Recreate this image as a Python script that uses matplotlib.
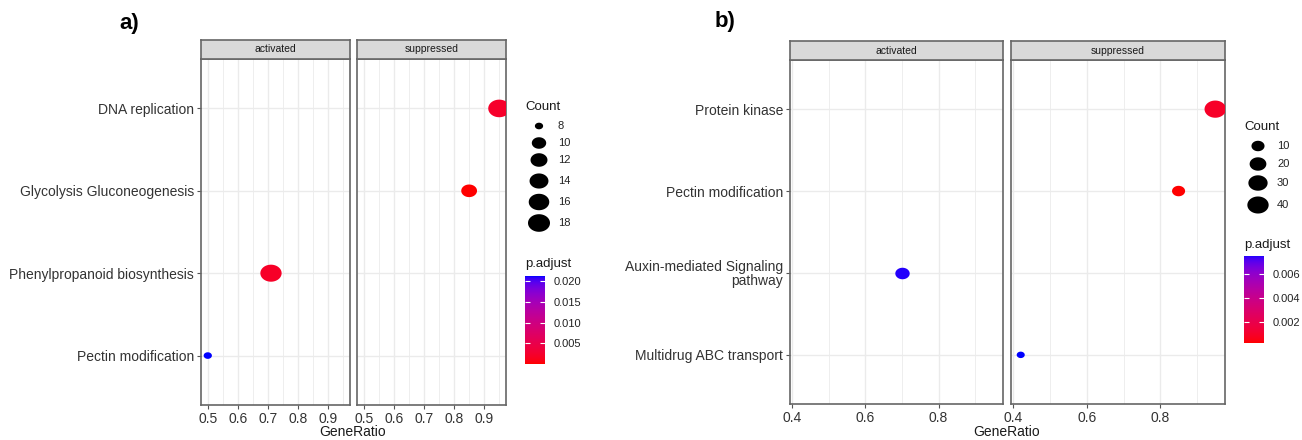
import numpy as np
import matplotlib
matplotlib.use('Agg')
import matplotlib.pyplot as plt
from matplotlib.path import Path
from matplotlib.colors import ListedColormap, Normalize

plt.rcParams['font.family'] = ['Liberation Sans', 'DejaVu Sans']

# a) enrichment by category
terms_a = ['DNA replication', 'Glycolysis Gluconeogenesis',
           'Phenylpropanoid biosynthesis', 'Pectin modification']
group_a = ['suppressed', 'suppressed', 'activated', 'activated']
ratio_a = [0.95, 0.85, 0.71, 0.50]
count_a = [18, 11, 17, 8]
padj_a = [0.0022, 0.00005, 0.0020, 0.0212]
size_breaks_a = [8, 10, 12, 14, 16, 18]
color_breaks_a = [0.005, 0.010, 0.015, 0.020]

# b) enrichment by category
terms_b = ['Protein kinase', 'Pectin modification',
           'Auxin-mediated Signaling\npathway', 'Multidrug ABC transport']
group_b = ['suppressed', 'suppressed', 'activated', 'suppressed']
ratio_b = [0.95, 0.85, 0.70, 0.42]
count_b = [41, 10, 13, 5]
padj_b = [0.0009, 0.0002, 0.0074, 0.0075]
size_breaks_b = [10, 20, 30, 40]
color_breaks_b = [0.002, 0.004, 0.006]

facets = ['activated', 'suppressed']

W, H = 1302, 440
fig = plt.figure(figsize=(W / 100, H / 100), dpi=100)


def box(x0, y0, x1, y1):
    return [x0 / W, 1 - y1 / H, (x1 - x0) / W, (y1 - y0) / H]


def put(x, y, s, **kw):
    fig.text(x / W, 1 - y / H, s, **kw)


# red -> blue gradient interpolated in CIE Lab
WHITE = np.array([0.95047, 1.0, 1.08883])
M = np.array([[0.4124, 0.3576, 0.1805],
              [0.2126, 0.7152, 0.0722],
              [0.0193, 0.1192, 0.9505]])


def rgb2lab(rgb):
    c = np.asarray(rgb, float)
    lin = np.where(c <= 0.04045, c / 12.92, ((c + 0.055) / 1.055) ** 2.4)
    t = M @ lin / WHITE
    f = np.where(t > 0.008856, np.cbrt(t), 7.787 * t + 16 / 116)
    return np.array([116 * f[1] - 16, 500 * (f[0] - f[1]), 200 * (f[1] - f[2])])


def lab2rgb(lab):
    L, a, b = lab
    fy = (L + 16) / 116
    f = np.array([fy + a / 500, fy, fy - b / 200])
    t = np.where(f ** 3 > 0.008856, f ** 3, (f - 16 / 116) / 7.787) * WHITE
    lin = np.linalg.solve(M, t)
    lin = np.clip(lin, 0, 1)
    c = np.where(lin <= 0.0031308, 12.92 * lin, 1.055 * lin ** (1 / 2.4) - 0.055)
    return np.clip(c, 0, 1)


lo_lab, hi_lab = rgb2lab((1, 0, 0)), rgb2lab((0, 0, 1))
cmap = ListedColormap([lab2rgb(lo_lab + (hi_lab - lo_lab) * t)
                       for t in np.linspace(0, 1, 256)])

# slightly wide dot, same as the rest of the drawing
theta = np.linspace(0, 2 * np.pi, 73)
dot = Path(np.column_stack([1.25 * np.cos(theta), np.sin(theta)]))


def dot_area(v, lo, hi, wmax):
    v = np.asarray(v, float)
    w = (3 + 5 * np.sqrt((v - lo) / (hi - lo))) / 8 * wmax
    return (w * 0.72) ** 2


def dotplot(terms, groups, ratios, counts, padj, panels, top, bottom,
            majors, minors, wmax, label_x):
    groups = np.array(groups)
    ratios = np.array(ratios)
    counts = np.array(counts)
    padj = np.array(padj)
    ypos = np.arange(len(terms), 0, -1)
    span = max(ratios) - min(ratios)
    xlim = (min(ratios) - 0.05 * span, max(ratios) + 0.05 * span)
    norm = Normalize(min(padj), max(padj))
    for i, (facet, (x0, x1)) in enumerate(zip(facets, panels)):
        ax = fig.add_axes(box(x0, top, x1, bottom))
        ax.set_xlim(xlim)
        ax.set_ylim(0.4, len(terms) + 0.6)
        ax.set_xticks(majors)
        ax.set_xticks(minors, minor=True)
        ax.grid(which='major', color='#EBEBEB', lw=1.0)
        ax.grid(which='minor', axis='x', color='#EBEBEB', lw=0.6)
        ax.set_axisbelow(True)
        ax.set_yticks(ypos)
        ax.tick_params(axis='both', which='major', length=3, width=0.8,
                       color='#555555', pad=2)
        ax.tick_params(axis='x', which='major', labelsize=10,
                       labelcolor='#333333')
        ax.tick_params(axis='x', which='minor', length=0)
        if i == 0:
            ax.set_yticklabels(terms, fontsize=10, color='#333333',
                               linespacing=0.95)
        else:
            ax.set_yticklabels([])
            ax.tick_params(axis='y', length=0)
        for sp in ax.spines.values():
            sp.set_color('#666666')
            sp.set_linewidth(1.2)
        sel = groups == facet
        ax.scatter(ratios[sel], ypos[sel],
                   s=dot_area(counts[sel], counts.min(), counts.max(), wmax),
                   c=padj[sel], cmap=cmap, norm=norm, marker=dot,
                   linewidths=0, zorder=3)
        strip = fig.add_axes(box(x0, top - 19, x1, top))
        strip.set_facecolor('#D9D9D9')
        strip.set_xticks([])
        strip.set_yticks([])
        for sp in strip.spines.values():
            sp.set_color('#666666')
            sp.set_linewidth(1.2)
        strip.text(0.5, 0.5, facet, ha='center', va='center',
                   fontsize=7.5, color='#1A1A1A', transform=strip.transAxes)
    put(label_x, 432, 'GeneRatio', ha='center', va='center',
        fontsize=10, color='#1A1A1A')
    return norm


def legends(norm, counts, breaks, lx, title_y, rows, wmax,
            cbar_box, cbreaks, ptitle_y):
    lay = fig.add_axes([0, 0, 1, 1])
    lay.set_xlim(0, W)
    lay.set_ylim(H, 0)
    lay.axis('off')
    put(lx, title_y, 'Count', ha='left', va='center', fontsize=9.5,
        color='#1A1A1A')
    lay.scatter([lx + 14] * len(breaks), rows,
                s=dot_area(breaks, min(counts), max(counts), wmax),
                c='black', marker=dot, linewidths=0)
    for b, y in zip(breaks, rows):
        put(lx + 33, y, str(b), ha='left', va='center', fontsize=8,
            color='#222222')
    put(lx, ptitle_y, 'p.adjust', ha='left', va='center', fontsize=9.5,
        color='#1A1A1A')
    cax = fig.add_axes(box(*cbar_box))
    grad = np.linspace(norm.vmin, norm.vmax, 256)[:, None]
    cax.imshow(grad, cmap=cmap, norm=norm, origin='lower', aspect='auto',
               extent=[0, 1, norm.vmin, norm.vmax])
    cax.set_ylim(norm.vmin, norm.vmax)
    cax.set_xticks([])
    cax.set_yticks(cbreaks)
    cax.set_yticklabels([f'{b:.3f}' for b in cbreaks])
    cax.tick_params(axis='y', direction='in', length=3.5, width=0.8,
                    color='white', left=True, right=True, labelleft=False,
                    labelright=True, labelsize=8, labelcolor='#222222', pad=6)
    for sp in cax.spines.values():
        sp.set_visible(False)


norm_a = dotplot(terms_a, group_a, ratio_a, count_a, padj_a,
                 [(201, 350), (357, 506)], 59, 405,
                 [0.5, 0.6, 0.7, 0.8, 0.9], [0.55, 0.65, 0.75, 0.85, 0.95],
                 22, 353)
norm_b = dotplot(terms_b, group_b, ratio_b, count_b, padj_b,
                 [(790, 1003), (1011, 1225)], 60, 404,
                 [0.4, 0.6, 0.8], [0.5, 0.7, 0.9], 21.5, 1007)

legends(norm_a, count_a, size_breaks_a, 525, 107,
        [126, 143, 160, 181, 202, 223], 22,
        (525, 276, 545, 364), color_breaks_a, 264)
legends(norm_b, count_b, size_breaks_b, 1244, 127,
        [146, 164, 183, 205], 21.5,
        (1244, 256, 1264, 343), color_breaks_b, 245)

put(129, 24, 'a)', ha='center', va='center', fontsize=16, fontweight='bold')
put(725, 22, 'b)', ha='center', va='center', fontsize=16, fontweight='bold')

fig.savefig('out.png', dpi=100, facecolor='white')
